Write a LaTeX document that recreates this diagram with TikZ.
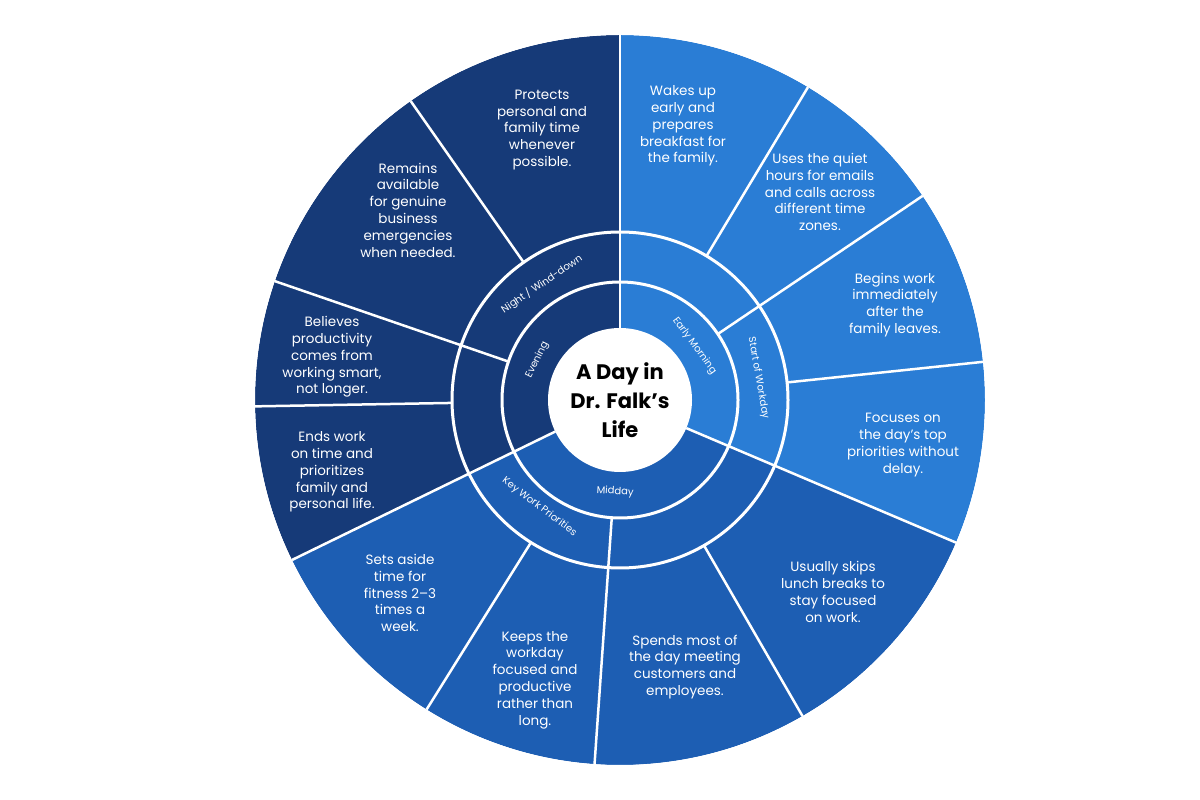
\documentclass[tikz,border=0pt]{standalone}
\usepackage{fontspec}
\setmainfont{Poppins}
\usetikzlibrary{calc}
\definecolor{cLight}{HTML}{2A7DD5}
\definecolor{cMed}{HTML}{1D5EB3}
\definecolor{cDark}{HTML}{163A78}
\begin{document}
\begin{tikzpicture}[x=1pt,y=1pt,
  seg/.style={white,align=center,font=\fontsize{13.5}{16.8}\selectfont},
  ring/.style={white,font=\fontsize{10}{11}\selectfont},
  wl/.style={white,line width=2.5pt}]
\useasboundingbox (0,0) rectangle (1200,800);
\coordinate (O) at (620,400);
\def\R{365}
\fill[cLight] (O) -- ++(-23:\R) arc[start angle=-23,end angle=90,radius=\R] -- cycle;
\fill[cDark] (O) -- ++(90:\R) arc[start angle=90,end angle=206,radius=\R] -- cycle;
\fill[cMed] (O) -- ++(206:\R) arc[start angle=206,end angle=337,radius=\R] -- cycle;
\foreach \a in {90,-23,206} \draw[wl] (O) ++(\a:72) -- ++(\a:293);
\foreach \a in {34,-94,161} \draw[wl] (O) ++(\a:118) -- ++(\a:247);
\foreach \a in {59,6,-60,-122,181,125} \draw[wl] (O) ++(\a:168) -- ++(\a:197);
\draw[wl,line width=3pt] (O) circle[radius=118];
\draw[wl,line width=3pt] (O) circle[radius=168];
\draw[white,line width=4pt] (O) circle[radius=\R+2];
\node[circle,fill=white,minimum size=144pt,inner sep=0pt] (c) at (O) {};
\node[align=center,font=\bfseries\fontsize{21}{29}\selectfont] (t) at (O) {A Day in\\Dr. Falk’s\\Life};
% ring labels
\node[ring,rotate=-54] (em) at ($(O)+(36:92)$) {Early Morning};
\node[ring,rotate=-80] (sw) at ($(O)+(9:140)$) {Start of Workday};
\node[ring,rotate=34] (nw) at ($(O)+(124:140)$) {Night / Wind-down};
\node[ring,rotate=64] (ev) at ($(O)+(154:92)$) {Evening};
\node[ring,rotate=-3] (md) at ($(O)+(-93:92)$) {Midday};
\node[ring,rotate=-37] (kw) at ($(O)+(233:134)$) {Key Work Priorities};
% segment texts
\node[seg] (s1) at (683,674) {Wakes up\\early and\\prepares\\breakfast for\\the family.};
\node[seg] (s2) at (820,608) {Uses the quiet\\hours for emails\\and calls across\\different time\\zones.};
\node[seg] (s3) at (895,495) {Begins work\\immediately\\after the\\family leaves.};
\node[seg] (s4) at (903,355) {Focuses on\\the day’s top\\priorities without\\delay.};
\node[seg] (s5) at (833,208) {Usually skips\\lunch breaks to\\stay focused\\on work.};
\node[seg] (s6) at (685,133) {Spends most of\\the day meeting\\customers and\\employees.};
\node[seg] (s7) at (535,120) {Keeps the\\workday\\focused and\\productive\\rather than\\long.};
\node[seg] (s8) at (400,207) {Sets aside\\time for\\fitness 2–3\\times a\\week.};
\node[seg] (s9) at (332,328) {Ends work\\on time and\\prioritizes\\family and\\personal life.};
\node[seg] (s10) at (332,443) {Believes\\productivity\\comes from\\working smart,\\not longer.};
\node[seg] (s11) at (408,590) {Remains\\available\\for genuine\\business\\emergencies\\when needed.};
\node[seg] (s12) at (542,670) {Protects\\personal and\\family time\\whenever\\possible.};
\end{tikzpicture}
\end{document}
